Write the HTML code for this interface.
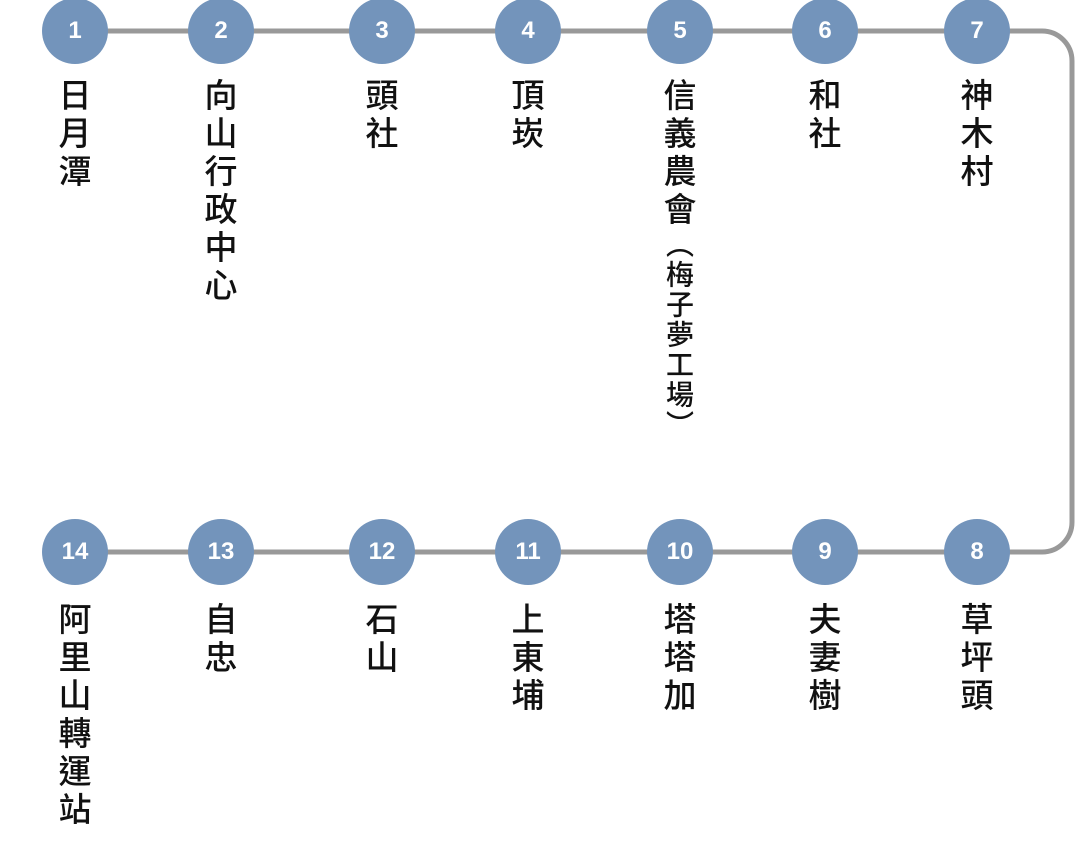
<!DOCTYPE html>
<html><head><meta charset="utf-8"><style>
html,body{margin:0;padding:0;background:#fff;}
body{width:1080px;height:861px;position:relative;overflow:hidden;font-family:"Liberation Sans","Noto Sans CJK TC",sans-serif;}
.c{position:absolute;width:66px;height:66px;border-radius:50%;background:#7394bb;color:#fff;font:bold 24px "Liberation Sans",sans-serif;display:flex;align-items:center;justify-content:center;}
.t{position:absolute;writing-mode:vertical-rl;text-orientation:upright;font-size:33px;line-height:36px;letter-spacing:5px;color:#111;font-family:"Noto Sans CJK TC",sans-serif;font-weight:500;}
.s{font-size:28px;letter-spacing:2px;}
</style></head><body>
<svg width="1080" height="861" style="position:absolute;left:0;top:0">
<path d="M75 31 H1042 A30 30 0 0 1 1072 61 V522 A30 30 0 0 1 1042 552 H75" fill="none" stroke="#999" stroke-width="5"/>
</svg>
<div class="c" style="left:42px;top:-2px">1</div>
<div class="c" style="left:188px;top:-2px">2</div>
<div class="c" style="left:349px;top:-2px">3</div>
<div class="c" style="left:495px;top:-2px">4</div>
<div class="c" style="left:647px;top:-2px">5</div>
<div class="c" style="left:792px;top:-2px">6</div>
<div class="c" style="left:944px;top:-2px">7</div>
<div class="c" style="left:42px;top:519px">14</div>
<div class="c" style="left:188px;top:519px">13</div>
<div class="c" style="left:349px;top:519px">12</div>
<div class="c" style="left:495px;top:519px">11</div>
<div class="c" style="left:647px;top:519px">10</div>
<div class="c" style="left:792px;top:519px">9</div>
<div class="c" style="left:944px;top:519px">8</div>

<div class="t" style="left:57px;top:78px">日月潭</div>
<div class="t" style="left:203px;top:78px">向山行政中心</div>
<div class="t" style="left:364px;top:78px">頭社</div>
<div class="t" style="left:510px;top:78px">頂崁</div>
<div class="t" style="left:662px;top:78px">信義農會<span class="s">（梅子夢工場）</span></div>
<div class="t" style="left:807px;top:78px">和社</div>
<div class="t" style="left:959px;top:78px">神木村</div>

<div class="t" style="left:57px;top:602px">阿里山轉運站</div>
<div class="t" style="left:203px;top:602px">自忠</div>
<div class="t" style="left:364px;top:602px">石山</div>
<div class="t" style="left:510px;top:602px">上東埔</div>
<div class="t" style="left:662px;top:602px">塔塔加</div>
<div class="t" style="left:807px;top:602px">夫妻樹</div>
<div class="t" style="left:959px;top:602px">草坪頭</div>
</body></html>
